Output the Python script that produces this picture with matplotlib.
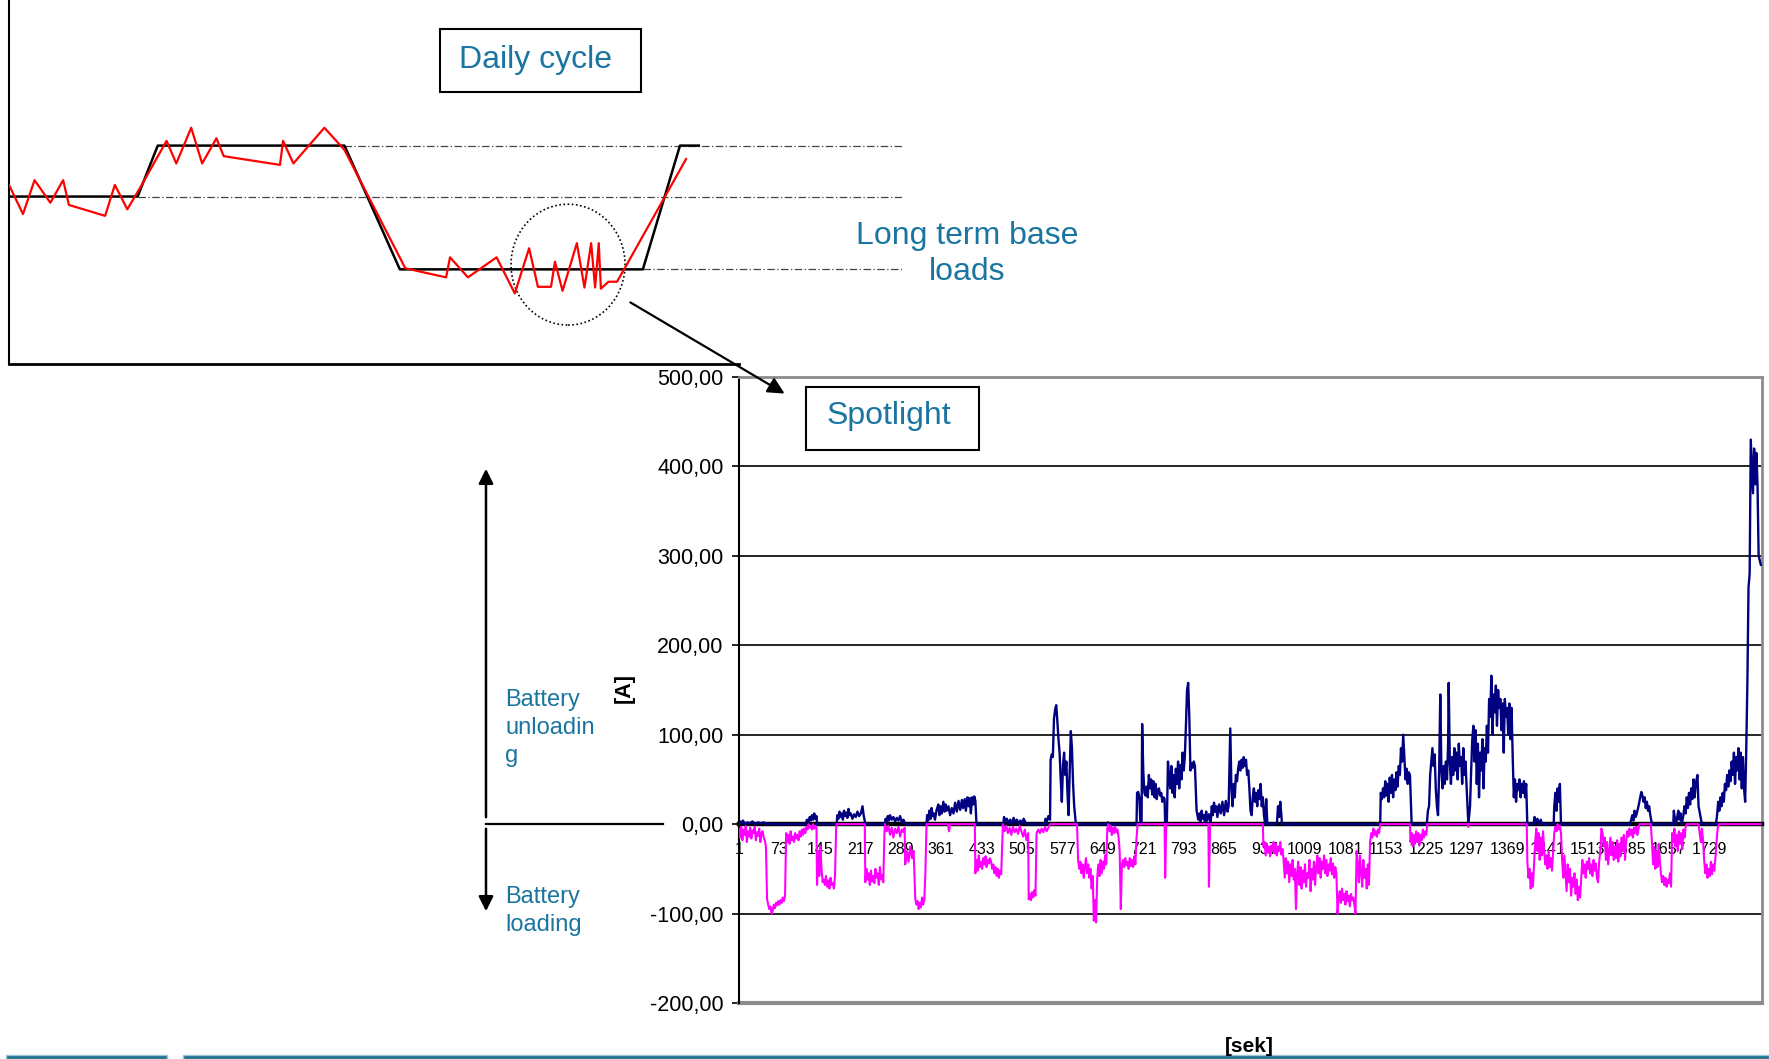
import matplotlib
matplotlib.use("Agg")
import matplotlib.pyplot as plt
from matplotlib.patches import Rectangle, Ellipse, FancyArrowPatch

plt.rcParams['font.family'] = ['Liberation Sans', 'DejaVu Sans']

# ---- daily cycle sketch (hours, relative load) ----
cycle_t = [0, 4.23, 4.89, 11.03, 12.85, 20.84, 22.06, 22.68]
cycle_load = [4.6, 4.6, 6.0, 6.0, 2.6, 2.6, 6.0, 6.0]

actual_t = [0, 0.46, 0.84, 1.36, 1.78, 1.97, 3.16, 3.48, 3.89, 4.33, 5.18, 5.50, 5.99,
            6.35, 6.82, 7.06, 8.91, 9.01, 9.35, 10.37, 11.03, 13.03, 14.37, 14.50, 15.09,
            16.03, 16.63, 17.10, 17.39, 17.82, 17.95, 18.20, 18.67, 18.92, 19.14, 19.27,
            19.39, 19.46, 19.71, 19.99, 20.27, 22.26]
actual_load = [4.92, 4.12, 5.05, 4.43, 5.05, 4.37, 4.07, 4.92, 4.25, 4.87, 6.13, 5.51, 6.49,
               5.51, 6.20, 5.71, 5.47, 6.13, 5.51, 6.49, 5.88, 2.63, 2.38, 2.93, 2.38,
               2.93, 1.94, 3.18, 2.12, 2.12, 2.81, 2.01, 3.32, 2.10, 3.32, 2.10,
               3.32, 2.07, 2.26, 2.26, 2.67, 5.63]

base_levels = [6.0, 4.6, 2.6]
base_start = [11.03, 4.23, 20.84]
base_end = 29.36

# ---- spotlight measurement [sek] -> [A] ----
discharge_pts = [
    (1, 0), (3, 3), (5, 1), (8, 4), (12, 0), (16, 2), (20, 1), (25, 3), (30, 0), (35, 2),
    (40, 1), (45, 2), (50, 0), (55, 1), (60, 0), (120, 0),
    (122, 5), (125, 3), (127, 8), (129, 4), (131, 10), (133, 5), (135, 12), (137, 6), (139, 9),
    (140, 0), (175, 0),
    (176, 10), (178, 6), (180, 14), (182, 8), (184, 12), (186, 5), (188, 15), (190, 9), (192, 13),
    (194, 7), (196, 17), (198, 10), (200, 12), (203, 6), (206, 11), (209, 8), (212, 14), (215, 9),
    (218, 12), (221, 20), (223, 10), (226, 0), (261, 0),
    (262, 6), (264, 3), (266, 9), (268, 4), (270, 10), (273, 5), (276, 8), (279, 3), (282, 7),
    (285, 4), (288, 9), (291, 2), (294, 5), (297, 0), (335, 0),
    (336, 10), (338, 4), (340, 15), (342, 6), (344, 18), (346, 9), (348, 12), (350, 5), (353, 16),
    (356, 22), (358, 10), (360, 20), (362, 12), (365, 25), (367, 14), (369, 22), (371, 15),
    (374, 20), (377, 10), (380, 18), (383, 12), (386, 24), (389, 14), (392, 26), (395, 16),
    (398, 27), (400, 18), (403, 28), (405, 15), (408, 30), (410, 20), (412, 29), (414, 12),
    (416, 30), (418, 22), (420, 31), (422, 26), (424, 0), (472, 0),
    (473, 8), (475, 3), (478, 6), (481, 1), (484, 5), (487, 0), (490, 7), (493, 2), (496, 5),
    (499, 0), (502, 4), (505, 1), (508, 6), (511, 2), (514, 0), (546, 0),
    (547, 6), (549, 2), (552, 9), (555, 5), (556, 72), (558, 78), (560, 75), (562, 118),
    (564, 128), (566, 133), (568, 115), (570, 95), (572, 80), (574, 50), (576, 25), (578, 65),
    (580, 80), (582, 55), (584, 70), (586, 35), (588, 10), (590, 60), (592, 104), (594, 85),
    (596, 45), (598, 20), (601, 0), (657, 0), (658, 2), (660, 0), (709, 0),
    (710, 35), (712, 36), (714, 30), (716, 0), (718, 0), (719, 112), (721, 60), (723, 35),
    (725, 32), (727, 42), (729, 30), (731, 55), (733, 40), (735, 50), (737, 33), (739, 48),
    (741, 30), (743, 45), (745, 28), (747, 38), (749, 40), (751, 32), (753, 35), (755, 25),
    (757, 30), (759, 28), (760, 0), (763, 0),
    (765, 70), (767, 52), (769, 40), (771, 65), (773, 35), (775, 55), (777, 30), (779, 62),
    (781, 45), (783, 70), (785, 40), (787, 66), (789, 50), (791, 80), (793, 60), (795, 75),
    (797, 110), (799, 150), (801, 158), (803, 120), (805, 60), (807, 68), (809, 63), (811, 70),
    (813, 65), (816, 15),
    (819, 5), (821, 12), (823, 3), (825, 15), (827, 6), (829, 10), (831, 0), (833, 14), (835, 4),
    (838, 11), (841, 2), (843, 20), (845, 10), (847, 24), (849, 14), (851, 20), (853, 8),
    (856, 22), (859, 12), (862, 25), (865, 10), (868, 26), (871, 14), (873, 20),
    (876, 107), (878, 40), (880, 20), (882, 45), (884, 30), (886, 55), (888, 48), (890, 62),
    (892, 70), (894, 60), (896, 72), (898, 63), (900, 75), (902, 65), (904, 72), (906, 55),
    (908, 60), (910, 40), (912, 15), (914, 10), (916, 30), (918, 40), (920, 25), (922, 35),
    (924, 20), (926, 38), (928, 28), (930, 45), (932, 20), (934, 30), (936, 10), (938, 0),
    (940, 28), (942, 0), (959, 0), (961, 20), (963, 8), (965, 25), (967, 10), (968, 0),
    (1143, 0),
    (1144, 35), (1146, 28), (1148, 40), (1150, 30), (1152, 48), (1154, 32), (1156, 45),
    (1158, 25), (1160, 52), (1162, 35), (1164, 55), (1166, 30), (1168, 50), (1170, 38),
    (1172, 58), (1174, 42), (1176, 65), (1178, 55), (1180, 85), (1182, 70), (1184, 100),
    (1186, 75), (1188, 50), (1190, 62), (1192, 45), (1194, 58), (1196, 55), (1199, 0),
    (1226, 0),
    (1228, 15), (1230, 20), (1232, 55), (1234, 70), (1236, 85), (1238, 65), (1240, 78),
    (1242, 40), (1244, 20), (1246, 10), (1248, 60), (1250, 145),
    (1252, 60), (1254, 40), (1256, 65), (1258, 45), (1260, 70), (1262, 50), (1264, 90),
    (1265, 158), (1267, 70), (1269, 45), (1271, 75), (1273, 55), (1275, 85), (1277, 60),
    (1279, 80), (1281, 50), (1283, 90), (1285, 65), (1287, 75), (1289, 45), (1291, 85),
    (1293, 55), (1295, 70), (1297, 40), (1300, 0),
    (1303, 20), (1305, 60), (1307, 95), (1309, 110), (1311, 70), (1313, 105), (1315, 45),
    (1317, 90), (1319, 30), (1321, 80), (1323, 60), (1325, 95), (1327, 40), (1329, 85),
    (1331, 70), (1333, 110), (1335, 80), (1337, 140),
    (1339, 120), (1341, 166), (1343, 100), (1345, 145), (1347, 125), (1349, 155), (1351, 110),
    (1353, 150), (1355, 130), (1357, 140), (1359, 105), (1361, 135), (1363, 80), (1365, 140),
    (1367, 120), (1369, 130), (1371, 100), (1373, 135), (1375, 95), (1377, 130), (1379, 75),
    (1381, 30), (1383, 50), (1385, 25), (1387, 45), (1389, 38), (1391, 50), (1393, 30),
    (1395, 45), (1397, 35), (1399, 48), (1401, 30), (1403, 45), (1405, 0), (1416, 0),
    (1418, 8), (1420, 2), (1423, 6), (1426, 0), (1429, 5), (1431, 0), (1452, 0),
    (1453, 20), (1455, 35), (1457, 15), (1459, 40), (1461, 25), (1463, 45), (1465, 0),
    (1588, 0), (1590, 5), (1592, 10), (1594, 4), (1596, 15), (1598, 8), (1600, 12), (1603, 20),
    (1606, 30), (1608, 36), (1610, 32), (1612, 25), (1614, 30), (1616, 18), (1618, 25),
    (1620, 15), (1622, 20), (1624, 10), (1627, 0), (1665, 0),
    (1666, 15), (1668, 5), (1670, 0), (1672, 8), (1674, 15), (1676, 5), (1678, 12), (1680, 0),
    (1683, 10), (1685, 20), (1687, 12), (1689, 30), (1691, 18), (1693, 35), (1695, 22),
    (1697, 40), (1699, 28), (1701, 50), (1703, 30), (1705, 45), (1708, 55), (1710, 20),
    (1713, 10), (1716, 0), (1741, 0),
    (1743, 10), (1745, 25), (1747, 15), (1749, 30), (1751, 20), (1753, 35), (1755, 25),
    (1757, 45), (1759, 38), (1761, 55), (1763, 42), (1765, 60), (1767, 48), (1769, 70),
    (1771, 55), (1773, 80), (1775, 45), (1777, 75), (1779, 60), (1781, 85), (1783, 50),
    (1785, 80), (1787, 40), (1789, 75), (1791, 40), (1793, 25), (1795, 85), (1797, 160),
    (1799, 265), (1801, 280), (1803, 430), (1805, 400), (1807, 370), (1809, 420), (1811, 380),
    (1813, 415), (1815, 380), (1817, 300), (1821, 290),
]

charge_pts = [
    (1, -5), (3, -15), (5, -3), (7, -18), (9, -6), (11, -12), (13, -2), (15, -20), (17, -8),
    (19, -14), (21, -4), (23, -16), (25, -7), (27, -10), (29, -3), (31, -18), (33, -9),
    (35, -13), (37, -5), (39, -20), (41, -10), (43, -8), (45, -15), (47, -18), (49, -25),
    (51, -84), (53, -90), (55, -95), (57, -92), (59, -100), (61, -97), (63, -90), (65, -94),
    (67, -88), (69, -91), (71, -86), (73, -90), (75, -85), (77, -88), (79, -82), (81, -86),
    (83, -80), (85, -10), (87, -20), (89, -12), (91, -22), (93, -8), (95, -18), (97, -14),
    (99, -20), (101, -10), (103, -16), (105, -12), (107, -18), (109, -8), (111, -14),
    (113, -6), (115, -12), (117, -5), (119, -10), (121, -3), (123, -6), (125, 0), (127, -4),
    (129, -2), (131, -6), (133, 0), (135, -5), (137, -2), (139, -4), (140, -68), (142, -30),
    (144, -58), (146, -25), (148, -50), (150, -65), (152, -62), (154, -68), (156, -58),
    (158, -70), (160, -63), (162, -72), (164, -60), (166, -68), (168, -66), (170, -72),
    (172, -58), (174, -5), (175, 0), (225, 0), (226, -65), (228, -50), (230, -62), (232, -55),
    (234, -68), (236, -52), (238, -64), (240, -58), (242, -66), (244, -50), (246, -60),
    (248, -55), (250, -68), (252, -48), (254, -62), (256, -57), (258, -65), (260, -10),
    (261, 0), (264, -8), (267, -2), (270, -12), (273, -4), (276, -15), (279, -5), (282, -10),
    (285, -3), (288, -14), (291, -6), (294, -9), (296, -4), (297, -45), (300, -30), (303, -42),
    (306, -25), (309, -38), (312, -30), (315, -84), (317, -90), (319, -86), (321, -95),
    (323, -88), (325, -93), (327, -82), (329, -90), (331, -85), (333, -54), (335, 0), (373, 0),
    (375, -8), (377, 0), (421, 0), (422, -55), (424, -40), (426, -52), (428, -35), (430, -48),
    (432, -42), (434, -50), (436, -38), (438, -45), (440, -36), (442, -48), (444, -40),
    (446, -44), (448, -38), (450, -42), (452, -50), (454, -45), (456, -55), (458, -48),
    (460, -58), (462, -50), (464, -60), (466, -52), (468, -56), (471, 0), (474, -8), (477, -2),
    (480, -10), (483, -4), (486, -12), (489, -3), (492, -9), (495, -5), (498, -11), (501, -2),
    (504, -8), (507, -14), (510, -6), (513, -18), (516, -10), (517, -84), (519, -78),
    (521, -85), (523, -76), (525, -82), (527, -74), (529, -80), (531, -10), (534, -6),
    (537, -10), (540, -5), (543, -9), (546, -3), (549, -8), (552, -4), (555, 0), (603, 0),
    (605, -40), (607, -50), (609, -42), (611, -55), (613, -45), (615, -60), (617, -48),
    (619, -38), (621, -55), (623, -45), (625, -60), (627, -50), (629, -72), (631, -58),
    (633, -108), (635, -85), (637, -110), (639, -60), (641, -45), (643, -58), (645, -40),
    (647, -55), (649, -42), (651, -50), (653, -35), (655, -45), (657, -5), (659, 0),
    (661, -8), (663, -2), (665, -12), (667, -4), (669, -10), (671, -3), (673, -9), (675, -6),
    (677, -14), (679, -30), (681, -95), (683, -45), (685, -40), (687, -48), (689, -38),
    (691, -46), (693, -42), (695, -50), (697, -38), (699, -47), (701, -40), (703, -48),
    (705, -36), (707, -45), (709, -15), (711, 0), (759, 0), (760, -60), (762, 0), (837, 0),
    (838, -70), (840, 0), (934, 0), (935, -25), (937, -20), (939, -35), (941, -22), (943, -32),
    (945, -25), (947, -36), (949, -24), (951, -30), (953, -20), (955, -33), (957, -22),
    (959, -35), (961, -25), (963, -30), (965, -20), (967, -34), (969, -28), (971, -40),
    (973, -60), (975, -38), (977, -55), (979, -42), (981, -65), (983, -45), (985, -58),
    (987, -40), (989, -62), (991, -50), (993, -95), (995, -55), (997, -42), (999, -68),
    (1001, -48), (1003, -72), (1005, -52), (1007, -65), (1009, -45), (1011, -70), (1013, -55),
    (1015, -60), (1017, -40), (1019, -75), (1021, -50), (1023, -62), (1025, -42), (1027, -68),
    (1029, -48), (1031, -35), (1033, -55), (1035, -38), (1037, -60), (1039, -42), (1041, -50),
    (1043, -35), (1045, -55), (1047, -40), (1049, -58), (1051, -45), (1053, -52), (1055, -38),
    (1057, -56), (1059, -44), (1061, -60), (1063, -48), (1065, -55), (1067, -100), (1069, -82),
    (1071, -75), (1073, -88), (1075, -72), (1077, -85), (1079, -78), (1081, -90), (1083, -75),
    (1085, -86), (1087, -80), (1089, -92), (1091, -78), (1093, -85), (1095, -82), (1097, -90),
    (1099, -100), (1101, -30), (1103, -45), (1105, -65), (1107, -35), (1109, -55), (1111, -70),
    (1113, -40), (1115, -60), (1117, -50), (1119, -72), (1121, -45), (1123, -68), (1125, -20),
    (1127, -10), (1129, -15), (1131, -5), (1133, -12), (1135, -8), (1137, -14), (1139, -6),
    (1141, -10), (1143, 0), (1196, 0), (1197, -20), (1199, -10), (1201, -25), (1203, -12),
    (1205, -22), (1207, -8), (1209, -20), (1211, -10), (1213, -24), (1215, -12), (1217, -18),
    (1219, -6), (1221, -15), (1223, -8), (1225, -12), (1227, 0), (1299, 0), (1300, -3),
    (1301, 0), (1404, 0), (1405, -40), (1407, -60), (1409, -50), (1411, -72), (1413, -55),
    (1415, -70), (1417, -45), (1419, -20), (1421, -5), (1423, -30), (1425, -10), (1427, -40),
    (1429, -15), (1431, -35), (1433, -8), (1435, -30), (1437, -45), (1439, -35), (1441, -50),
    (1443, -30), (1445, -48), (1447, -38), (1449, -52), (1451, -32), (1453, -10), (1455, -3),
    (1457, -8), (1459, 0), (1461, -6), (1463, -2), (1465, -10), (1467, -40), (1469, -60),
    (1471, -35), (1473, -55), (1475, -75), (1477, -45), (1479, -65), (1481, -50), (1483, -80),
    (1485, -60), (1487, -70), (1489, -55), (1491, -78), (1493, -62), (1495, -85), (1497, -70),
    (1499, -82), (1501, -60), (1503, -40), (1505, -55), (1507, -45), (1509, -60), (1511, -42),
    (1513, -50), (1515, -38), (1517, -55), (1519, -45), (1521, -58), (1523, -40), (1525, -52),
    (1527, -44), (1529, -60), (1531, -65), (1533, -42), (1535, -30), (1537, -5), (1539, -10),
    (1541, -25), (1543, -15), (1545, -40), (1547, -20), (1549, -45), (1551, -30), (1553, -15),
    (1555, -35), (1557, -20), (1559, -40), (1561, -25), (1563, -38), (1565, -18), (1567, -42),
    (1569, -22), (1571, -36), (1573, -15), (1575, -30), (1577, -12), (1579, -40), (1581, -20),
    (1583, -8), (1585, -14), (1587, -5), (1589, -12), (1591, -6), (1593, -15), (1595, -4),
    (1597, -10), (1599, -3), (1601, -12), (1603, -5), (1605, 0), (1625, 0), (1627, -20),
    (1629, -45), (1631, -25), (1633, -50), (1635, -30), (1637, -48), (1639, -22), (1641, -40),
    (1643, -55), (1645, -65), (1647, -58), (1649, -68), (1651, -60), (1653, -70), (1655, -62),
    (1657, -66), (1659, -55), (1661, -70), (1663, -10), (1665, -20), (1667, -5), (1669, -25),
    (1671, -12), (1673, -30), (1675, -8), (1677, -22), (1679, -10), (1681, -28), (1683, -6),
    (1685, -15), (1687, -3), (1689, 0), (1710, 0), (1712, -10), (1714, -20), (1716, -5),
    (1718, -18), (1720, -40), (1722, -55), (1724, -45), (1726, -60), (1728, -50), (1730, -58),
    (1732, -42), (1734, -56), (1736, -45), (1738, -52), (1740, -38), (1742, -20), (1744, -5),
    (1746, 0), (1821, 0),
]

x_ticks = list(range(1, 1730, 72))
y_ticks = [-200, -100, 0, 100, 200, 300, 400, 500]
y_labels = [f"{v:.2f}".replace('.', ',') for v in y_ticks]

TEAL = '#1a75a0'
W, H = 1769, 1059


def fx(px):
    return px / W


def fy(py):
    return 1 - py / H


fig = plt.figure(figsize=(W / 100, H / 100), dpi=100)

# ---- top panel: daily cycle ----
ax_top = fig.add_axes([fx(9), fy(364), fx(902) - fx(9), fy(0) - fy(364)])
ax_top.set_xlim(0, base_end)
ax_top.set_ylim(0, 10)
for lvl, start in zip(base_levels, base_start):
    ax_top.plot([start, base_end], [lvl, lvl], color='#444444', lw=0.9,
                linestyle=(0, (6, 2, 1, 2)), zorder=1)
ax_top.plot(cycle_t, cycle_load, color='black', lw=1.8, zorder=2)
ax_top.plot(actual_t, actual_load, color='#ff0000', lw=1.6, zorder=3)
ax_top.add_patch(Ellipse((18.38, 2.73), 3.75, 3.32, fill=False, edgecolor='black',
                         lw=1.2, linestyle=(0, (1, 1.5))))
for s in ['top', 'right']:
    ax_top.spines[s].set_visible(False)
ax_top.spines['left'].set_linewidth(1.5)
ax_top.spines['bottom'].set_linewidth(2)
ax_top.spines['bottom'].set_bounds(0, 24)
ax_top.set_xticks([])
ax_top.set_yticks([])
ax_top.patch.set_alpha(0)

# ---- main chart: spotlight ----
ax = fig.add_axes([fx(739), fy(1003), fx(1762) - fx(739), fy(377) - fy(1003)])
ax.set_xlim(1, 1823)
ax.set_ylim(-200, 500)
for v in [-100, 100, 200, 300, 400]:
    ax.axhline(v, color='black', lw=1.2, zorder=1)
dx, dy = zip(*discharge_pts)
cx, cy = zip(*charge_pts)
ax.plot(dx, dy, color='#000080', lw=1.7, zorder=3)
ax.plot(cx, cy, color='#ff00ff', lw=1.5, zorder=4)

ax.spines['bottom'].set_position(('data', 0))
ax.spines['bottom'].set_linewidth(3.2)
ax.spines['left'].set_linewidth(1.5)
for s in ['top', 'right']:
    ax.spines[s].set_color('#8c8c8c')
    ax.spines[s].set_linewidth(2)
ax.axhline(-200, color='#8c8c8c', lw=3, clip_on=False, zorder=2)

ax.set_xticks(x_ticks)
ax.set_xticklabels([str(t) for t in x_ticks])
ax.tick_params(axis='x', length=0, pad=13, labelsize=11.5)
ax.set_yticks(y_ticks)
ax.set_yticklabels(y_labels)
ax.tick_params(axis='y', direction='out', length=5, width=1.2, pad=6, labelsize=15.5)

fig.text(fx(624), fy(688), '[A]', rotation=90, fontsize=15.5, fontweight='bold',
         ha='center', va='center')
fig.text(fx(1249), fy(1046), '[sek]', fontsize=15, fontweight='bold',
         ha='center', va='center')

# ---- text boxes ----
fig.add_artist(Rectangle((fx(440), fy(92)), fx(641) - fx(440), fy(29) - fy(92),
                         transform=fig.transFigure, fill=False, edgecolor='black', lw=1.5))
fig.text(fx(459), fy(60), 'Daily cycle', fontsize=23, color=TEAL, ha='left', va='center')
fig.add_artist(Rectangle((fx(806), fy(450)), fx(979) - fx(806), fy(387) - fy(450),
                         transform=fig.transFigure, fill=False, edgecolor='black', lw=1.5))
fig.text(fx(827), fy(416), 'Spotlight', fontsize=23, color=TEAL, ha='left', va='center')
fig.text(fx(967), fy(254), 'Long term base\nloads', fontsize=23, color=TEAL,
         ha='center', va='center', linespacing=1.25)

fig.text(fx(505), fy(728), 'Battery\nunloadin\ng', fontsize=17, color=TEAL,
         ha='left', va='center', linespacing=1.38)
fig.text(fx(505), fy(911), 'Battery\nloading', fontsize=17, color=TEAL,
         ha='left', va='center', linespacing=1.38)

# ---- arrows ----
fig.add_artist(FancyArrowPatch((fx(628), fy(301)), (fx(787), fy(395)),
                               transform=fig.transFigure, arrowstyle='-|>',
                               mutation_scale=25, lw=1.6, color='black'))
fig.add_artist(FancyArrowPatch((fx(486), fy(820)), (fx(486), fy(466)),
                               transform=fig.transFigure, arrowstyle='-|>',
                               mutation_scale=22, lw=1.8, color='black'))
fig.add_artist(FancyArrowPatch((fx(486), fy(826)), (fx(486), fy(914)),
                               transform=fig.transFigure, arrowstyle='-|>',
                               mutation_scale=22, lw=1.8, color='black'))
fig.add_artist(plt.Line2D([fx(486), fx(663)], [fy(824), fy(824)],
                          transform=fig.transFigure, color='black', lw=1.6))

# ---- slide tabs at the bottom edge ----
fig.add_artist(Rectangle((fx(6), 0), fx(167) - fx(6), fx(4) * W / H,
                         transform=fig.transFigure, facecolor='#1d6f8e', edgecolor='#9cc7d6'))
fig.add_artist(Rectangle((fx(183), 0), fx(1769) - fx(183), fx(4) * W / H,
                         transform=fig.transFigure, facecolor='#1d6f8e', edgecolor='#9cc7d6'))

fig.savefig('out.png', dpi=100)
